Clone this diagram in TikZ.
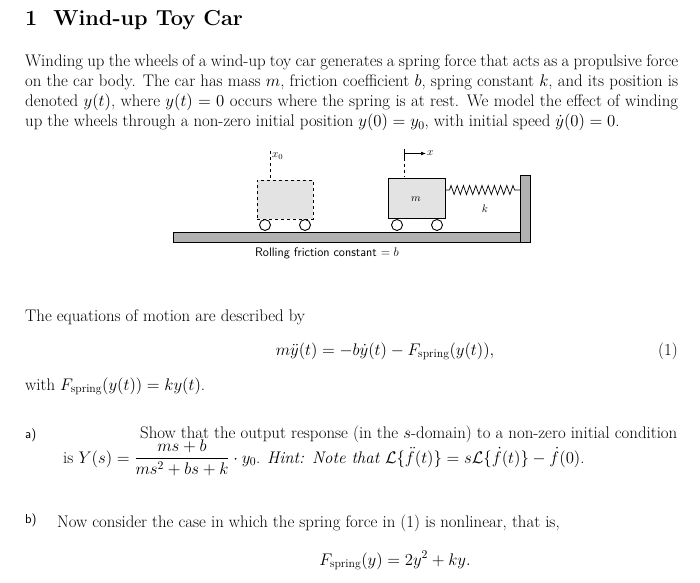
\RequirePackage{fix-cm}
\documentclass[tikz,border=0pt]{standalone}
\usepackage{amsmath,amssymb}
\usetikzlibrary{decorations.pathmorphing,arrows.meta}
\begin{document}
\begin{tikzpicture}[x=1pt,y=-1pt,
  txt/.style={anchor=base west,inner sep=0pt,font=\fontsize{16.8}{20}\selectfont},
  cart/.style={draw,fill=gray!22,line width=0.9pt},
  wheel/.style={draw,fill=white,line width=0.9pt},
  sflab/.style={inner sep=0pt,font=\sffamily\fontsize{12.4}{14}\selectfont}]
\useasboundingbox (0,0) rectangle (700,582);
\node[txt,font=\bfseries\fontsize{21.7}{24}\selectfont] (title) at (25,25) {1\hspace{16pt}Wind-up Toy Car};
\node[anchor=north west,inner sep=0pt,text width=653pt,align=justify,font=\fontsize{16.8}{20}\selectfont] (para) at (25,55)
{Winding up the wheels of a wind-up toy car generates a spring force that acts as a propulsive force on the car body. The car has mass $m$, friction coefficient $b$, spring constant $k$, and its position is denoted $y(t)$, where $y(t)=0$ occurs where the spring is at rest. We model the effect of winding up the wheels through a non-zero initial position $y(0)=y_0$, with initial speed $\dot y(0)=0$.};
% figure
\draw[fill=gray!60,line width=0.8pt] (173,232) rectangle (530,242);
\draw[fill=gray!60,line width=0.8pt] (520,175) rectangle (530,242);
\node[cart,dashed,minimum width=56pt,minimum height=39pt] (c0) at (285,199.5) {};
\node[wheel,circle,minimum size=11pt,inner sep=0pt] (w1) at (265,225) {};
\node[wheel,circle,minimum size=11pt,inner sep=0pt] (w2) at (305,225) {};
\node[cart,minimum width=57pt,minimum height=40pt] (c1) at (416.5,198) {};
\node[wheel,circle,minimum size=11pt,inner sep=0pt] (w3) at (397,225) {};
\node[wheel,circle,minimum size=11pt,inner sep=0pt] (w4) at (437,225) {};
\node[font=\fontsize{11}{12}\selectfont,inner sep=0pt] (m) at (416,199) {$m$};
\coordinate (s0) at (c1.east|-0,190);
\coordinate (s1) at (520,190);
\draw[line width=0.7pt,decoration={zigzag,segment length=6.2pt,amplitude=4.5pt,pre length=4pt,post length=4pt},decorate] (s0) -- (s1);
\node[inner sep=0pt,font=\fontsize{11}{12}\selectfont] (k) at (485,209) {$k$};
\draw[dashed,line width=0.6pt] (270,151) coordinate (d0) -- (270,179);
\node[anchor=west,inner sep=1pt,font=\fontsize{11}{12}\selectfont] (x0) at (271,156) {$x_0$};
\draw[dashed,line width=0.6pt] (404,152) coordinate (d1) -- (404,177);
\coordinate (a1) at (426,153.5);
\draw[line width=0.6pt] (404,149) -- (404,158);
\draw[line width=0.6pt,-{Latex[length=5pt]}] (404,153.5) -- (a1);
\node[anchor=west,inner sep=1pt,font=\fontsize{11}{12}\selectfont] (x) at (a1) {$x$};
\node[sflab] (rf) at (327,253) {Rolling friction constant $=b$};
% text
\node[txt] (eqintro) at (25,321) {The equations of motion are described by};
\node[inner sep=0pt,font=\fontsize{16.8}{20}\selectfont,anchor=base] (eq) at (385,355) {$m\ddot y(t)=-b\dot y(t)-F_{\text{spring}}(y(t)),$};
\node[txt,anchor=base east] (n1) at (678,355) {(1)};
\node[txt] (with) at (25,390) {with $F_{\text{spring}}(y(t))=ky(t)$.};
\node[txt,font=\sffamily\fontsize{13}{15}\selectfont] (a) at (25,438) {a)};
\node[txt] (ashow) at (140,438) {Show that the output response (in the $s$-domain) to a non-zero initial condition};
\node[txt] (ais) at (63,463) {is $Y(s)=\dfrac{ms+b}{ms^2+bs+k}\cdot y_0$. \textit{Hint: Note that} $\mathcal{L}\{\ddot f(t)\}=s\mathcal{L}\{\dot f(t)\}-\dot f(0)$.};
\node[txt,font=\sffamily\fontsize{13}{15}\selectfont] (b) at (25,523) {b)};
\node[txt] (bnow) at (57,527) {Now consider the case in which the spring force in (1) is nonlinear, that is,};
\node[inner sep=0pt,font=\fontsize{16.8}{20}\selectfont,anchor=base] (eq2) at (395,565) {$F_{\text{spring}}(y)=2y^2+ky.$};
\end{tikzpicture}
\end{document}
